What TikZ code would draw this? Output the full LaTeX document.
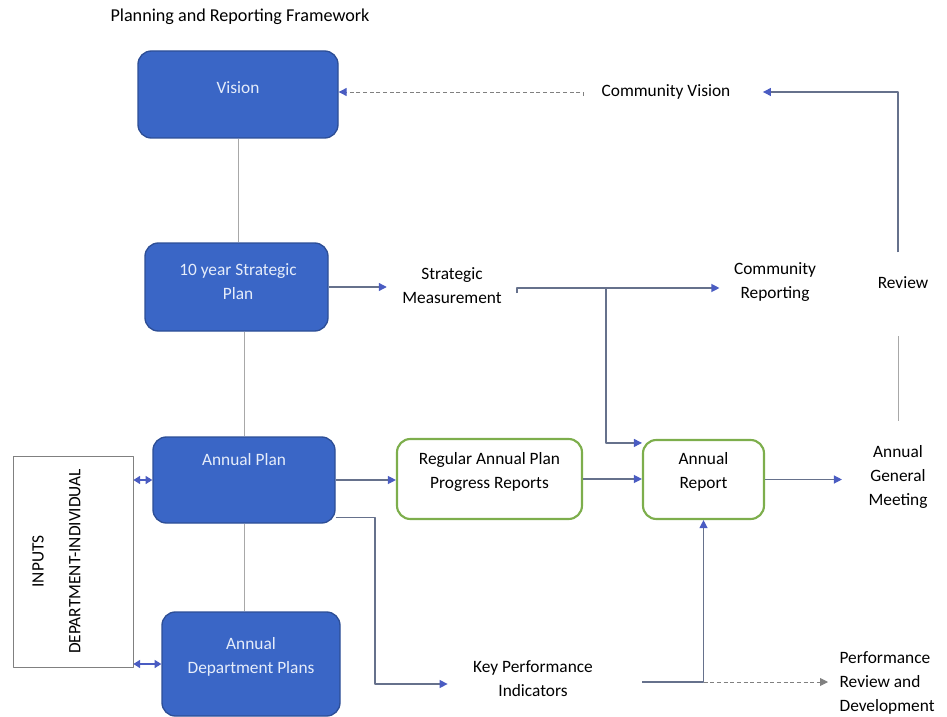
\documentclass[tikz,border=0pt]{standalone}
\usepackage{fontspec}
\setmainfont{Carlito}
\usetikzlibrary{arrows.meta}
\newdimen\px \px=0.75pt
\definecolor{bluefill}{HTML}{3A66C6}
\definecolor{blueedge}{HTML}{2D4E96}
\definecolor{bluetext}{HTML}{E6EDFA}
\definecolor{greenedge}{HTML}{7DAE4C}
\definecolor{tipblue}{HTML}{4A5CC2}
\definecolor{linegray}{HTML}{66718C}
\definecolor{softgray}{HTML}{A8A8A8}
\begin{document}
\begin{tikzpicture}[x=0.75pt,y=-0.75pt,line join=round,font=\fontsize{13}{18}\selectfont]
\useasboundingbox (0,0) rectangle (947,717);
\tikzset{
  blk/.style={draw=blueedge,fill=bluefill,line width=1pt,rounded corners=10pt,inner sep=0pt},
  grn/.style={draw=greenedge,line width=1.6pt,rounded corners=10pt,align=center,inner sep=0pt},
  wtxt/.style={text=bluetext,align=center,inner sep=1pt},
  txt/.style={align=center,inner sep=1pt},
  link/.style={draw=softgray,line width=0.7pt},
  flow/.style={draw=linegray,line width=0.9pt,-{Triangle[length=6pt,width=6pt,color=tipblue]}},
  dflow/.style={draw=gray,line width=0.7pt,densely dashed,-{Triangle[length=6pt,width=6pt,color=#1]}},
  dflow/.default=tipblue,
  both/.style={draw=tipblue,line width=1pt,{Triangle[length=5pt,width=6pt]}-{Triangle[length=5pt,width=6pt]}}
}
\node[txt,font=\fontsize{13.6}{18}\selectfont] (title) at (240,17) {Planning and Reporting Framework};
% blue boxes
\node[blk,minimum width=200\px,minimum height=87\px] (vis) at (238,94.5) {};
\node[blk,minimum width=183\px,minimum height=88\px] (stp) at (236.5,287) {};
\node[blk,minimum width=182\px,minimum height=86\px] (ap) at (244,480) {};
\node[blk,minimum width=178\px,minimum height=104\px] (adp) at (251,664) {};
\node[wtxt] (vist) at (238,88) {Vision};
\node[wtxt] (stpt) at (238,281.5) {10 year Strategic\\Plan};
\node[wtxt] (apt) at (244,460) {Annual Plan};
\node[wtxt] (adpt) at (251,657) {Annual\\Department Plans};
% inputs
\node[draw=gray,line width=0.6pt,minimum width=120\px,minimum height=211\px,inner sep=0pt] (inp) at (73,561.5) {};
\node[txt,rotate=90] (inpa) at (38,561.5) {INPUTS};
\node[txt,rotate=90] (inpb) at (75,561.5) {DEPARTMENT-INDIVIDUAL};
% green boxes
\node[grn,minimum width=185\px,minimum height=80\px] (rap) at (489.5,479) {Regular Annual Plan\\Progress Reports\\[-5pt]};
\node[grn,minimum width=121\px,minimum height=79\px] (ar) at (703.5,479.5) {Annual\\Report\\[-5pt]};
% plain labels
\node[txt] (cv) at (666,92) {Community Vision};
\node[txt] (sm) at (452,286) {Strategic\\Measurement};
\node[txt] (cr) at (775,282) {Community\\Reporting};
\node[txt] (rev) at (903,283) {Review};
\node[txt] (agm) at (898,477) {Annual\\General\\Meeting};
\node[txt] (kpi) at (533,679) {Key Performance\\Indicators};
\node[txt,align=left,anchor=west] (prd) at (838,683) {Performance\\Review and\\Development};
\path (517,288) coordinate (smo) (606,288) coordinate (br)
  (583,92) coordinate (cvo) (375,684) coordinate (kb) (642,682) coordinate (kpo);
% links
\draw[link] (vis.south) -- (vis.south |- stp.north);
\draw[link] (ap.north |- stp.south) -- (ap.north);
\draw[link] (ap.south) -- (ap.south |- adp.north);
\draw[link,shorten <=23\px,shorten >=45\px] (agm.north) -- (agm.north |- rev.south);
\draw[both] (inp.east |- ap.west) -- (ap.west);
\draw[both] (inp.east |- adp.west) -- (adp.west);
% arrows
\draw[flow,shorten >=14\px] (stp.east) -- (stp.east -| sm.west);
\draw[flow,shorten >=13\px] (smo) ++(0,5) -- (smo) -- (smo -| cr.west);
\draw[flow] (br) |- ([yshift=-4\px]ar.north west);
\draw[flow] (ap.east) -- (ap.east -| rap.west);
\draw[flow] (rap.east) -- (rap.east -| ar.west);
\draw[flow,shorten >=25\px] (ar.east) -- (ar.east -| agm.west);
\draw[flow,shorten >=24\px] ([yshift=6\px]ap.south east) -| (kb) -- (kb -| kpi.west);
\draw[flow] (kpo) -| (ar.south);
\draw[flow,shorten <=23\px,shorten >=31\px] (agm.north |- rev.north) |- (cv.east);
\draw[dflow] (cvo) ++(0,4) -- (cvo) -- (cvo -| vis.east);
\draw[dflow=gray,shorten >=10\px] (kpo -| ar.south) -- (kpo -| prd.west);
\end{tikzpicture}
\end{document}
